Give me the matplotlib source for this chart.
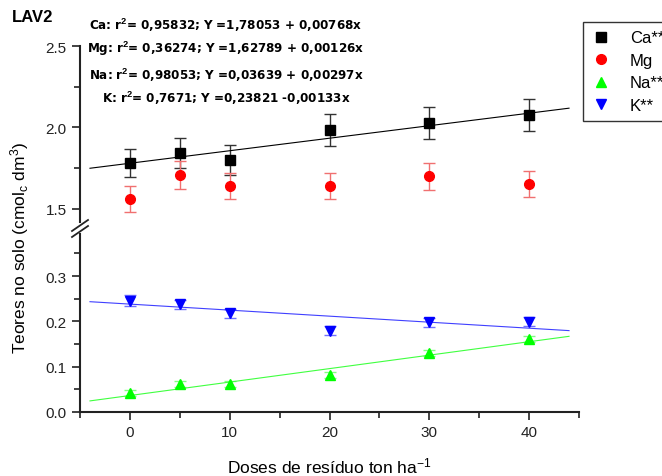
import numpy as np
import matplotlib
matplotlib.use('Agg')
import matplotlib.pyplot as plt
from matplotlib import font_manager
from matplotlib.lines import Line2D

# dados
doses = [0, 5, 10, 20, 30, 40]
ca = [1.782, 1.843, 1.80, 1.985, 2.027, 2.077]
ca_err = [0.087, 0.09, 0.09, 0.10, 0.10, 0.10]
mg = [1.561, 1.709, 1.643, 1.643, 1.70, 1.653]
mg_err = [0.08, 0.085, 0.08, 0.08, 0.085, 0.08]
na = [0.042, 0.062, 0.062, 0.082, 0.130, 0.161]
na_err = [0.006, 0.006, 0.006, 0.006, 0.006, 0.006]
k = [0.246, 0.238, 0.218, 0.179, 0.198, 0.199]
k_err = [0.012, 0.01, 0.01, 0.01, 0.01, 0.01]

# coeficientes das regressoes (a + b x)
reg_ca = (1.78053, 0.00768)
reg_na = (0.03639, 0.00297)
reg_k = (0.23821, -0.00133)
x_reg = np.array([-4, 44])

equacoes = [r'Ca: r$^{\mathbf{2}}$= 0,95832; Y =1,78053 + 0,00768x',
            r'Mg: r$^{\mathbf{2}}$= 0,36274; Y =1,62789 + 0,00126x',
            r'Na: r$^{\mathbf{2}}$= 0,98053; Y =0,03639 + 0,00297x',
            r'K: r$^{\mathbf{2}}$= 0,7671; Y =0,23821 -0,00133x']
legenda = ['Ca**', 'Mg', 'Na**', 'K**']

# fonte estreita para as equacoes, se houver
cond = [f for f in font_manager.fontManager.ttflist
        if f.name == 'DejaVu Sans' and f.stretch == 'condensed' and f.weight == 700]
if cond:
    eq_font = dict(family='DejaVu Sans', stretch='condensed', fontsize=9.5)
else:
    eq_font = dict(family='Liberation Sans', fontsize=9.3)

plt.rcParams['font.family'] = ['Liberation Sans', 'DejaVu Sans']
plt.rcParams['mathtext.fontset'] = 'custom'
plt.rcParams['mathtext.rm'] = 'Liberation Sans'
plt.rcParams['mathtext.it'] = 'Liberation Sans:italic'
plt.rcParams['mathtext.bf'] = 'Liberation Sans:bold'

W, H = 662, 477
fig = plt.figure(figsize=(W / 100, H / 100), dpi=100)
left = 80 / W
width = (579 - 80) / W
ax_top = fig.add_axes([left, 1 - 223 / H, width, 176 / H])
ax_bot = fig.add_axes([left, 1 - 413 / H, width, 178 / H])

# parte de cima: Ca e Mg
ax_top.errorbar(doses, ca, yerr=ca_err, fmt='s', color='black', ms=6.5,
                ecolor='#333333', elinewidth=1, capsize=4, capthick=1)
ax_top.errorbar(doses, mg, yerr=mg_err, fmt='o', color='red', ms=7,
                ecolor='#f07070', elinewidth=1, capsize=4, capthick=1)
ax_top.plot(x_reg, reg_ca[0] + reg_ca[1] * x_reg, color='black', lw=0.8)

# parte de baixo: Na e K
ax_bot.errorbar(doses, k, yerr=k_err, fmt='v', color='#0000ff', ms=7,
                ecolor='#7070ff', elinewidth=1, capsize=4, capthick=1)
ax_bot.errorbar(doses, na, yerr=na_err, fmt='^', color='#00ff00', ms=7,
                ecolor='#80ff80', elinewidth=1, capsize=4, capthick=1)
ax_bot.plot(x_reg, reg_k[0] + reg_k[1] * x_reg, color='#4040ff', lw=0.8)
ax_bot.plot(x_reg, reg_na[0] + reg_na[1] * x_reg, color='#40ff40', lw=0.8)

for ax in (ax_top, ax_bot):
    ax.set_xlim(-5, 45)
    for s in ('top', 'right'):
        ax.spines[s].set_visible(False)
    for s in ('left', 'bottom'):
        ax.spines[s].set_linewidth(1.5)
        ax.spines[s].set_color('#222222')
    ax.tick_params(which='major', direction='out', length=6, width=1.2,
                   labelsize=11, colors='#222222')
    ax.tick_params(which='minor', direction='out', length=4, width=1.2,
                   colors='#222222')
    ax.patch.set_visible(False)

ax_top.set_ylim(1.42, 2.5)
ax_top.set_yticks([1.5, 2.0, 2.5])
ax_top.set_yticks([1.75, 2.25], minor=True)
ax_top.spines['bottom'].set_visible(False)
ax_top.tick_params(axis='x', which='both', bottom=False, labelbottom=False)

ax_bot.set_ylim(0, 0.393)
ax_bot.set_yticks([0.0, 0.1, 0.2, 0.3])
ax_bot.set_yticks([0.05, 0.15, 0.25, 0.35], minor=True)
ax_bot.set_xticks([0, 10, 20, 30, 40])
ax_bot.set_xticks([-5, 5, 15, 25, 35, 45], minor=True)
ax_bot.set_xlabel('Doses de resíduo ton ha$^{-1}$', fontsize=12.5, labelpad=12)

# marcas de quebra do eixo
for dy in (0, 6):
    fig.add_artist(Line2D([72 / W, 88 / W], [1 - (235 - dy + 3) / H, 1 - (224 - dy + 3) / H],
                          transform=fig.transFigure, color='#222222', lw=1.3))

fig.text(20 / W, 1 - 248 / H, 'Teores no solo (cmol$_\\mathrm{c}$ dm$^3$)',
         rotation=90, ha='center', va='center', fontsize=12.5)
fig.text(12 / W, 1 - 18 / H, 'LAV2', fontsize=12, fontweight='bold',
         ha='left', va='center')

eq_y = [25, 49, 75, 98]
for txt, yy in zip(equacoes, eq_y):
    fig.text(226 / W, 1 - yy / H, txt, ha='center', va='center',
             fontweight='bold', **eq_font)

handles = [Line2D([], [], ls='none', marker='s', color='black', ms=6.5),
           Line2D([], [], ls='none', marker='o', color='red', ms=7),
           Line2D([], [], ls='none', marker='^', color='#00ff00', ms=7),
           Line2D([], [], ls='none', marker='v', color='#0000ff', ms=7)]
leg = fig.legend(handles, legenda, loc='upper left',
                 bbox_to_anchor=(583 / W, 1 - 23 / H), borderaxespad=0,
                 fontsize=12, frameon=True, fancybox=False, handlelength=1.2,
                 handletextpad=1.1, labelspacing=0.45, borderpad=0.5)
leg.get_frame().set_edgecolor('black')
leg.get_frame().set_linewidth(1)

fig.savefig('out.png', dpi=100)
